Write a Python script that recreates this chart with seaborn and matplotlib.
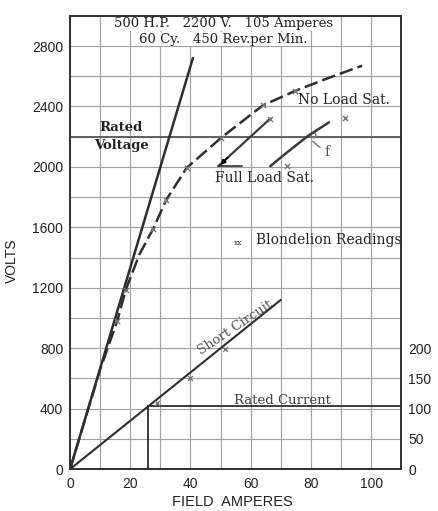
import matplotlib
matplotlib.use("Agg")
import matplotlib.pyplot as plt
import seaborn as sns

# air-gap line (volts vs field amperes)
airgap_amps = [0, 40.8]
airgap_volts = [0, 2720]

# no load saturation curve
noload_amps = [0, 10, 15.6, 18.5, 23, 27.5, 32, 38.7, 50, 64, 75, 86, 97]
noload_volts = [0, 660, 977, 1187, 1420, 1587, 1784, 1993, 2190, 2407, 2505, 2590, 2670]
noload_read_amps = [15.6, 18.5, 27.5, 32, 38.7, 50, 64, 74.8, 66.5]
noload_read_volts = [977, 1187, 1587, 1784, 1993, 2190, 2407, 2505, 2320]

# full load saturation curve
fullload_amps = [66.5, 72, 79, 86]
fullload_volts = [2005, 2095, 2205, 2295]
fullload_read_amps = [72, 91.4]
fullload_read_volts = [2006, 2321]

# potier construction
potier_amps = [49.3, 66.5]
potier_volts = [2006, 2320]

# short circuit (armature amperes vs field amperes)
sc_amps = [0, 70]
sc_current = [0, 280]
sc_read_amps = [29, 40, 51.6]
sc_read_current = [110, 151, 198]

rated_voltage = 2200
rated_current = 105
rated_field = 25.8

volt_ticks = [0, 400, 800, 1200, 1600, 2000, 2400, 2800]
amp_ticks = [0, 20, 40, 60, 80, 100]
current_ticks = [0, 50, 100, 150, 200]

sns.set_style("white")
plt.rcParams['font.family'] = ['Liberation Sans', 'DejaVu Sans']

ink = "#2e2e2e"
gridc = "#a0a0a0"
serif = "DejaVu Serif"

fig = plt.figure(figsize=(4.38, 5.11), dpi=100)
ax = fig.add_axes([0.160, 0.082, 0.756, 0.887])

# grid every 10 A and 200 V
for a in range(10, 110, 10):
    ax.axvline(a, color=gridc, lw=0.8, zorder=0)
for v in range(200, 3000, 200):
    ax.axhline(v, color=gridc, lw=0.8, zorder=0)

ax.axhline(rated_voltage, color="#555555", lw=1.3, zorder=1)

sns.lineplot(x=airgap_amps, y=airgap_volts, ax=ax, color=ink, lw=1.8,
             estimator=None, sort=False)
sns.lineplot(x=noload_amps, y=noload_volts, ax=ax, color=ink, lw=1.8,
             estimator=None, sort=False)
ax.lines[-1].set_dashes([5.5, 2])
sns.lineplot(x=fullload_amps, y=fullload_volts, ax=ax, color="#3a3a3a", lw=1.8,
             estimator=None, sort=False)
sns.lineplot(x=potier_amps, y=potier_volts, ax=ax, color="#3a3a3a", lw=1.6,
             estimator=None, sort=False)
ax.plot([49.3, 57], [2006, 2006], color=ink, lw=1.2)
ax.annotate("", xy=(49.3, 2000), xytext=(53, 2075),
            arrowprops=dict(arrowstyle="-|>", color="black", lw=1.2, mutation_scale=7))

sns.scatterplot(x=noload_read_amps, y=noload_read_volts, ax=ax, marker="x",
                color="#777777", s=14, linewidth=1, zorder=5)
sns.scatterplot(x=fullload_read_amps, y=fullload_read_volts, ax=ax, marker="x",
                color="#777777", s=14, linewidth=1, zorder=5)
ax.scatter([80.8], [2210], marker="o", s=14, facecolors="none", edgecolors="#777777", lw=1)
ax.plot([80.5, 83], [2170, 2130], color="#777777", lw=1)

ax.set_xlim(0, 110)
ax.set_ylim(0, 3000)
ax.set_xticks(amp_ticks)
ax.set_yticks(volt_ticks)
ax.tick_params(length=0, labelsize=10, colors="#222222")
ax.tick_params(axis="x", pad=6)
ax.tick_params(axis="y", pad=5)
ax.set_xlabel("FIELD  AMPERES", fontsize=10.5, color="#222222")
ax.set_ylabel("VOLTS", fontsize=10, color="#222222")
ax.xaxis.set_label_coords(0.49, -0.057)
ax.yaxis.set_label_coords(-0.155, 0.46)
for s in ax.spines.values():
    s.set_color(ink)
    s.set_linewidth(1.2)

# right axis for short circuit current
ax2 = ax.twinx()
ax2.set_ylim(0, 750)
ax2.set_yticks(current_ticks)
ax2.tick_params(length=0, labelsize=10, colors="#222222", pad=5)
sns.lineplot(x=sc_amps, y=sc_current, ax=ax2, color=ink, lw=1.5,
             estimator=None, sort=False)
sns.scatterplot(x=sc_read_amps, y=sc_read_current, ax=ax2, marker="x",
                color="#777777", s=12, linewidth=1, zorder=5)
ax2.plot([rated_field, 110], [rated_current, rated_current], color=ink, lw=1.3)
ax2.plot([rated_field, rated_field], [0, rated_current], color=ink, lw=1.3)
ax2.set_xlim(0, 110)
for s in ax2.spines.values():
    s.set_color(ink)
    s.set_linewidth(1.2)

# annotations
box = dict(facecolor="white", edgecolor="none", pad=0.5)
ax.text(51, 2948, "500 H.P.   2200 V.   105 Amperes", family=serif, fontsize=9.5,
        ha="center", va="center", color="#222222", bbox=box)
ax.text(51, 2845, "60 Cy.   450 Rev.per Min.", family=serif, fontsize=9.5,
        ha="center", va="center", color="#222222", bbox=box)
ax.text(17, 2262, "Rated", family=serif, fontsize=9.5, fontweight="bold",
        ha="center", va="center", color="#222222")
ax.text(17, 2139, "Voltage", family=serif, fontsize=9.5, fontweight="bold",
        ha="center", va="center", color="#222222")
ax.text(75.8, 2440, "No Load Sat.", family=serif, fontsize=10,
        ha="left", va="center", color="#222222")
ax.text(48.3, 1928, "Full Load Sat.", family=serif, fontsize=10,
        ha="left", va="center", color="#222222")
ax.text(84.5, 2100, "f", family=serif, fontsize=10,
        ha="left", va="center", color="#555555")
ax.text(56, 1498, "xx", family=serif, fontsize=5.5, ha="center", va="center", color="#333333")
ax.text(61.6, 1515, "Blondelion Readings", family=serif, fontsize=10,
        ha="left", va="center", color="#222222")
ax.text(55, 935, "Short Circuit", family=serif, fontsize=9.5, rotation=34,
        ha="center", va="center", rotation_mode="anchor", color="#555555")
ax.text(70.5, 455, "Rated Current", family=serif, fontsize=9.5,
        ha="center", va="center", color="#444444")

fig.savefig("out.png", dpi=100)
